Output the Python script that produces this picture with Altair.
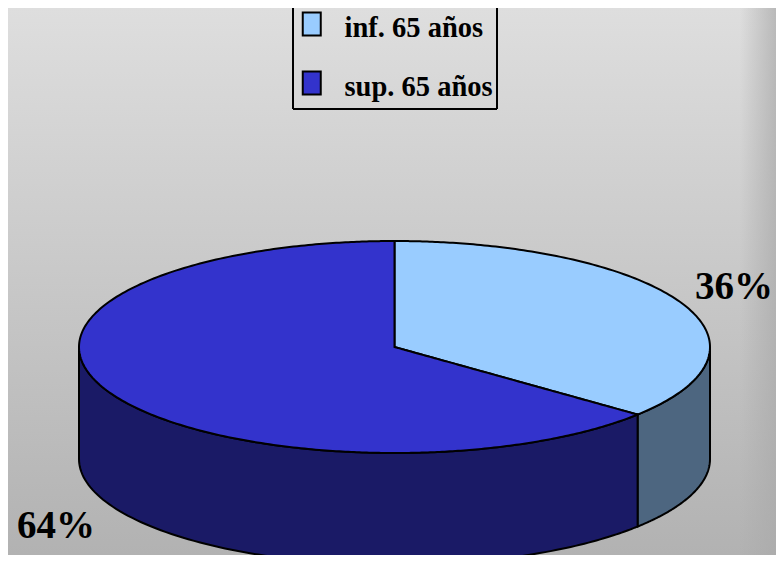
import math
import altair as alt
import pandas as pd

categories = ["inf. 65 años", "sup. 65 años"]
shares = [36, 64]
labels = ["36%", "64%"]
top_colors = ["#99CCFF", "#3333CC"]
side_colors = ["#4D6680", "#1A1A66"]

CX, CY, RX, RY, DEPTH = 394.5, 347, 315.5, 106, 112
N = 120
split = shares[0] / sum(shares) * 2 * math.pi
edge_x = CX + RX * math.sin(split)
edge_y = CY - RY * math.cos(split)


def ell_half(x):
    return RY * math.sqrt(max(0.0, 1 - ((x - CX) / RX) ** 2))


def xs(a, b):
    return [a + (b - a) * (0.5 - 0.5 * math.cos(math.pi * i / N)) for i in range(N + 1)]


def radial(x):
    return CY + (edge_y - CY) * (x - CX) / (edge_x - CX)


rows = []
for x in xs(CX, CX + RX):
    low = radial(x) if x <= edge_x else CY + ell_half(x)
    rows.append(dict(cat=categories[0], x=x, y=CY - ell_half(x), y2=low))
for x in xs(CX - RX, CX):
    rows.append(dict(cat=categories[1], x=x, y=CY - ell_half(x), y2=CY + ell_half(x)))
for x in xs(CX, edge_x):
    rows.append(dict(cat=categories[1], x=x, y=radial(x), y2=CY + ell_half(x)))
side = []
for x in xs(edge_x, CX + RX):
    side.append(dict(cat=categories[0], x=x, y=CY + ell_half(x), y2=CY + ell_half(x) + DEPTH))
for x in xs(CX - RX, edge_x):
    side.append(dict(cat=categories[1], x=x, y=CY + ell_half(x), y2=CY + ell_half(x) + DEPTH))

X = alt.X("x:Q", scale=alt.Scale(domain=[8, 776], nice=False, zero=False), axis=None)
Y = alt.Y("y:Q", scale=alt.Scale(domain=[555, 8], nice=False, zero=False), axis=None, stack=None)
Y2 = alt.Y2("y2:Q")

legend = alt.Legend(
    title=None, orient="none", legendX=289.5, legendY=3, symbolType="M-1,-1.72H1V0.84H-1Z",
    symbolSize=324, symbolStrokeColor="black", symbolStrokeWidth=2, symbolOpacity=1,
    labelFont="Liberation Serif", labelFontWeight="bold", labelFontSize=28.5, labelColor="black",
    rowPadding=25, labelOffset=18.5, padding=0, symbolOffset=0, clipHeight=34,
)
color = alt.Color("cat:N", scale=alt.Scale(domain=categories, range=top_colors), legend=legend)

bg = alt.Chart(pd.DataFrame({"a": [0]})).mark_rect(
    color=alt.Gradient(gradient="linear", x1=0, x2=0, y1=0, y2=1,
                       stops=[alt.GradientStop(offset=0, color="#dedede"),
                              alt.GradientStop(offset=1, color="#b2b2b2")])
).encode(x=alt.value(0), x2=alt.value(768), y=alt.value(0), y2=alt.value(547))
strip = alt.Chart(pd.DataFrame({"a": [0]})).mark_rect(
    color=alt.Gradient(gradient="linear", x1=0, x2=1, y1=0, y2=0,
                       stops=[alt.GradientStop(offset=0, color="rgba(170,170,170,0)"),
                              alt.GradientStop(offset=1, color="rgba(170,170,170,0.7)")])
).encode(x=alt.value(732), x2=alt.value(768), y=alt.value(0), y2=alt.value(547))

side_layer = alt.Chart(pd.DataFrame(side)).mark_area(stroke="black", strokeWidth=2, clip=True).encode(
    x=X, y=Y, y2=Y2,
    fill=alt.Fill("cat:N", scale=alt.Scale(domain=categories, range=side_colors), legend=None),
)
top_layer = alt.Chart(pd.DataFrame(rows)).mark_area(stroke="black", strokeWidth=2).encode(
    x=X, y=Y, y2=Y2, color=color,
)

frame = pd.DataFrame(dict(x=[293, 497, 293], y=[8, 8, 109], x2=[293, 497, 497], y2=[109, 109, 109]))
box = alt.Chart(frame).mark_rule(color="black", strokeWidth=2).encode(
    x=X, y=Y, x2="x2:Q", y2=Y2
)

lab = pd.DataFrame(dict(x=[734, 56], y=[287, 526], t=labels))
text = alt.Chart(lab).mark_text(
    font="Liberation Serif", fontWeight="bold", fontSize=39, color="black", align="center", baseline="middle"
).encode(x=X, y=Y, text="t:N")

chart = alt.layer(bg, strip, side_layer, top_layer, box, text).resolve_scale(
    color="independent", fill="independent"
).properties(width=768, height=547, padding=0, autosize=alt.AutoSizeParams(type="none")
).configure_view(stroke=None)

chart.save("out.html", embed_options={"renderer": "svg", "actions": False})
